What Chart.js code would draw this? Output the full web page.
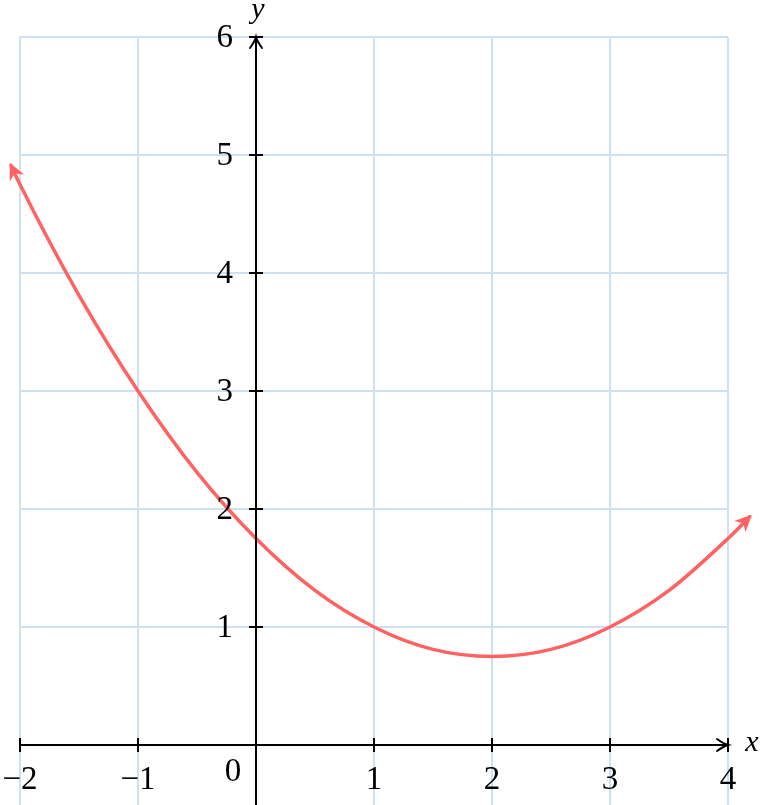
<!DOCTYPE html>
<html>
<head>
<meta charset="utf-8">
<title>Parabola</title>
<script src="https://cdn.jsdelivr.net/npm/chart.js@4.4.1/dist/chart.umd.min.js"></script>
<style>
  html, body { margin: 0; padding: 0; background: #fff; }
  #wrap { width: 762px; height: 805px; }
</style>
</head>
<body>
<div id="wrap"><canvas id="plot" width="762" height="805"></canvas></div>
<script>
// curve points
const xValues = [-2.08, -2, -1.5, -1, -0.5, 0, 0.5, 1, 1.5, 2, 2.5, 3, 3.5, 4, 4.19];
const yValues = [4.92, 4.75, 3.81, 3.0, 2.31, 1.75, 1.31, 1.0, 0.81, 0.75, 0.81, 1.0, 1.31, 1.75, 1.94];

const xTicks = [-2, -1, 1, 2, 3, 4];
const yTicks = [1, 2, 3, 4, 5, 6];
const xGrid = [-2, -1, 0, 1, 2, 3, 4];
const yGrid = [1, 2, 3, 4, 5, 6];

const gridColor = '#cfe0f2';
const curveColor = '#ff6262';
const font = '"Liberation Serif", "DejaVu Serif", serif';

function label(v) {
    return v < 0 ? '\u2212' + Math.abs(v) : String(v);
}

// LaTeX "to" style open arrow head
function openArrow(ctx, x, y, ang) {
    ctx.save();
    ctx.translate(x, y);
    ctx.rotate(ang);
    ctx.beginPath();
    ctx.moveTo(-11, -6);
    ctx.quadraticCurveTo(-4, -1, 0, 0);
    ctx.quadraticCurveTo(-4, 1, -11, 6);
    ctx.stroke();
    ctx.restore();
}

// filled stealth style head for the curve
function stealthArrow(ctx, x, y, ang) {
    ctx.save();
    ctx.translate(x, y);
    ctx.rotate(ang);
    ctx.beginPath();
    ctx.moveTo(2, 0);
    ctx.lineTo(-15, -8);
    ctx.lineTo(-10, 0);
    ctx.lineTo(-15, 8);
    ctx.closePath();
    ctx.fill();
    ctx.restore();
}

const axesPlugin = {
    id: 'axes',
    beforeDatasetsDraw(chart) {
        const ctx = chart.ctx;
        const xs = chart.scales.x, ys = chart.scales.y;
        const left = xs.getPixelForValue(-2), right = xs.getPixelForValue(4);
        const top = ys.getPixelForValue(6), bottom = chart.height;
        ctx.save();
        ctx.strokeStyle = gridColor;
        ctx.lineWidth = 2;
        xGrid.forEach(v => {
            const px = Math.round(xs.getPixelForValue(v));
            ctx.beginPath();
            ctx.moveTo(px, top);
            ctx.lineTo(px, bottom);
            ctx.stroke();
        });
        yGrid.forEach(v => {
            const py = Math.round(ys.getPixelForValue(v));
            ctx.beginPath();
            ctx.moveTo(left, py);
            ctx.lineTo(right, py);
            ctx.stroke();
        });
        ctx.restore();
    },
    afterDatasetsDraw(chart) {
        const ctx = chart.ctx;
        const xs = chart.scales.x, ys = chart.scales.y;
        const x0 = Math.round(xs.getPixelForValue(0));
        const y0 = Math.round(ys.getPixelForValue(0));
        const left = xs.getPixelForValue(-2), right = xs.getPixelForValue(4);
        const top = ys.getPixelForValue(6);

        ctx.save();
        ctx.strokeStyle = '#000';
        ctx.lineWidth = 2;
        ctx.lineCap = 'round';

        // axis lines
        ctx.beginPath();
        ctx.moveTo(left, y0);
        ctx.lineTo(right - 1, y0);
        ctx.moveTo(x0, chart.height);
        ctx.lineTo(x0, top + 1);
        ctx.stroke();
        openArrow(ctx, right, y0, 0);
        openArrow(ctx, x0, top, -Math.PI / 2);

        // tick marks
        ctx.lineCap = 'butt';
        ctx.beginPath();
        xTicks.forEach(v => {
            const px = Math.round(xs.getPixelForValue(v));
            ctx.moveTo(px, y0 - 7);
            ctx.lineTo(px, y0 + 7);
        });
        yTicks.forEach(v => {
            const py = Math.round(ys.getPixelForValue(v));
            ctx.moveTo(x0 - 7, py);
            ctx.lineTo(x0 + 7, py);
        });
        ctx.stroke();

        // tick labels
        ctx.fillStyle = '#000';
        ctx.font = '33px ' + font;
        ctx.textBaseline = 'middle';
        ctx.textAlign = 'center';
        xTicks.forEach(v => {
            ctx.fillText(label(v), xs.getPixelForValue(v), y0 + 35);
        });
        ctx.textAlign = 'right';
        yTicks.forEach(v => {
            ctx.fillText(label(v), x0 - 23, ys.getPixelForValue(v) + 1);
        });
        ctx.textAlign = 'center';
        ctx.fillText('0', x0 - 23, y0 + 27);

        // axis names
        ctx.font = 'italic 30px ' + font;
        ctx.fillText('y', x0 + 2, 10);
        ctx.fillText('x', right + 24, y0 - 2);

        // arrow heads on the curve
        const pts = chart.getDatasetMeta(0).data;
        ctx.fillStyle = curveColor;
        const first = pts[0], last = pts[pts.length - 1];
        stealthArrow(ctx, first.x, first.y,
            Math.atan2(first.y - first.cp2y, first.x - first.cp2x));
        stealthArrow(ctx, last.x, last.y,
            Math.atan2(last.y - last.cp1y, last.x - last.cp1x));
        ctx.restore();
    }
};

new Chart(document.getElementById('plot'), {
    type: 'scatter',
    data: {
        datasets: [{
            data: xValues.map((x, i) => ({ x: x, y: yValues[i] })),
            showLine: true,
            borderColor: curveColor,
            borderWidth: 3.5,
            pointRadius: 0,
            cubicInterpolationMode: 'monotone',
            fill: false
        }]
    },
    options: {
        responsive: false,
        animation: false,
        layout: { padding: 0 },
        plugins: { legend: { display: false }, tooltip: { enabled: false } },
        scales: {
            x: { type: 'linear', min: -2.1695, max: 4.2881, display: false },
            y: { type: 'linear', min: -0.5085, max: 6.3136, display: false }
        }
    },
    plugins: [axesPlugin]
});
</script>
</body>
</html>
